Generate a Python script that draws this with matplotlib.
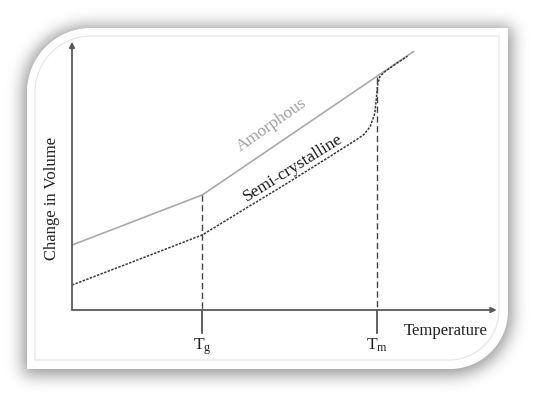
import numpy as np
import matplotlib
matplotlib.use("Agg")
import matplotlib.pyplot as plt
from matplotlib.path import Path
from matplotlib.patches import PathPatch

plt.rcParams['font.family'] = ['Liberation Serif', 'DejaVu Serif']
plt.rcParams['mathtext.fontset'] = 'custom'
plt.rcParams['mathtext.rm'] = 'Liberation Serif'
plt.rcParams['mathtext.it'] = 'Liberation Serif'

# ---- data (arbitrary units, 0..100) ----
temp_amorph = [0, 30.7, 71.7, 80.4]
vol_amorph = [24.2, 42.9, 87.0, 96.3]

temp_semi = [0, 15, 30.7, 40, 49.7, 60, 66.5, 68.6, 70.2, 71.3, 71.7, 72.0, 72.5, 73.7, 74.9, 76.5, 79.0]
vol_semi = [9.3, 18.4, 28.0, 37.0, 46.3, 56.5, 63.0, 65.2, 68.3, 73.3, 79.5, 84.5, 87.0, 88.9, 90.2, 92.0, 94.6]

tg, tm = 30.7, 71.7
tg_vol, tm_vol = 42.9, 87.0
tick_labels = [r'$\mathrm{T_g}$', r'$\mathrm{T_m}$']
labels = ['Amorphous', 'Semi-crystalline']

W, H = 535, 396
fig = plt.figure(figsize=(W / 100, H / 100), dpi=100)
fig.patch.set_facecolor('white')

# ---- background frame with shadow ----
bg = fig.add_axes([0, 0, 1, 1], zorder=0)
bg.axis('off')


def frame_path(x0, y0, x1, y1, r1, r2, n=40):
    pts = [(x0 + r1, y0), (x1, y0), (x1, y1 - r2)]
    cx, cy = x1 - r2, y1 - r2
    for t in np.linspace(0, np.pi / 2, n):
        pts.append((cx + r2 * np.cos(t), cy + r2 * np.sin(t)))
    pts += [(x0, y1), (x0, y0 + r1)]
    cx, cy = x0 + r1, y0 + r1
    for t in np.linspace(np.pi, 1.5 * np.pi, n):
        pts.append((cx + r1 * np.cos(t), cy + r1 * np.sin(t)))
    pts.append((x0 + r1, y0))
    return Path(pts, closed=True)


outer = frame_path(27, 28, 508, 369, 64, 58)
inner = frame_path(35, 36, 499, 360, 56, 50)

yy, xx = np.mgrid[0:H, 0:W]
shadow_path = frame_path(23, 26, 512, 375, 66, 62)
mask = shadow_path.contains_points(np.c_[xx.ravel() + 0.5, yy.ravel() + 0.5]).reshape(H, W).astype(float)
sig = 8.0
k = np.arange(-32, 33)
kern = np.exp(-k ** 2 / (2 * sig ** 2))
kern /= kern.sum()
blur = np.array([np.convolve(r, kern, mode='same') for r in mask])
blur = np.array([np.convolve(c, kern, mode='same') for c in blur.T]).T
rgba = np.zeros((H, W, 4))
rgba[..., :3] = 0.0
rgba[..., 3] = blur * 0.42
bg.imshow(rgba, extent=(0, W, H, 0), interpolation='bilinear', zorder=0)
bg.add_patch(PathPatch(outer, facecolor='white', edgecolor='none', zorder=1))
bg.add_patch(PathPatch(inner, facecolor='white', edgecolor='#e4e4e4', lw=0.8, zorder=2))
bg.set_xlim(0, W)
bg.set_ylim(H, 0)

# ---- chart axes ----
ax = fig.add_axes([72 / W, 1 - 310 / H, (496.7 - 72) / W, (310 - 41.7) / H], zorder=1)
ax.set_xlim(0, 100)
ax.set_ylim(0, 100)
ax.patch.set_alpha(0)
for s in ax.spines.values():
    s.set_visible(False)
ax.set_xticks([])
ax.set_yticks([])

axis_col = '#5a5a5a'
arrow = dict(arrowstyle='-|>', color=axis_col, lw=1.3, mutation_scale=8, shrinkA=0, shrinkB=0)
ax.annotate('', xy=(100, 0), xytext=(0, 0), arrowprops=arrow, annotation_clip=False)
ax.annotate('', xy=(0, 100), xytext=(0, 0), arrowprops=arrow, annotation_clip=False)

ax.plot(temp_amorph, vol_amorph, color='#a9a9a9', lw=1.2, clip_on=False)
ax.plot(temp_semi, vol_semi, color='#3a3a3a', lw=1.1, ls=(0, (1.6, 0.9)), clip_on=False)

for t, v, lab in zip([tg, tm], [tg_vol, tm_vol], tick_labels):
    ax.plot([t, t], [v, 0], color='#444444', lw=1.0, ls=(0, (4.5, 2.5)), clip_on=False)
    ax.plot([t, t], [0, -8.5], color='#444444', lw=1.2, clip_on=False)
    ax.text(t, -9.8, lab, ha='center', va='top', fontsize=12.5, color='#222222')

ax.text(78.0, -7.8, 'Temperature', ha='left', va='center', fontsize=12, color='#222222')
ax.text(-4.8, 41.6, 'Change in Volume', ha='center', va='center', rotation=90,
        fontsize=12, color='#222222')

ax.text(47.1, 69.0, labels[0], ha='center', va='center', rotation=35, rotation_mode='anchor',
        fontsize=12.5, color='#a0a0a0')
ax.text(52.1, 52.8, labels[1], ha='center', va='center', rotation=32, rotation_mode='anchor',
        fontsize=12.5, color='#1a1a1a')

fig.savefig('out.png', dpi=100)
